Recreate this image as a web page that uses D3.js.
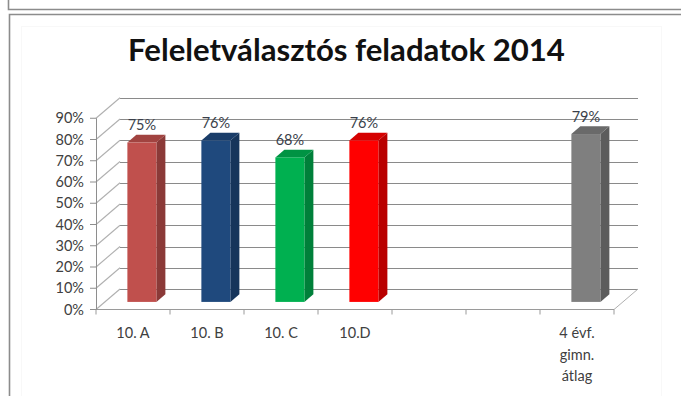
<!DOCTYPE html>
<html><head><meta charset="utf-8">
<script src="https://cdn.jsdelivr.net/npm/d3@7/dist/d3.min.js"></script>
<style>html,body{margin:0;padding:0;background:#fff;}svg{display:block;}</style>
</head><body>
<script>
// ---- data ----
const title = "Feleletválasztós feladatok 2014";
const categories = ["10. A", "10. B", "10. C", "10.D", "", "", "4 évf.\ngimn.\nátlag"];
const values = [0.75, 0.76, 0.68, 0.76, null, null, 0.79];
const valueLabels = ["75%", "76%", "68%", "76%", "", "", "79%"];
const barColors = ["#C0504D", "#1F497D", "#00B050", "#FF0000", null, null, "#7F7F7F"];
const yTicks = [0, 0.1, 0.2, 0.3, 0.4, 0.5, 0.6, 0.7, 0.8, 0.9];
const yTickLabels = ["0%", "10%", "20%", "30%", "40%", "50%", "60%", "70%", "80%", "90%"];

// ---- layout ----
const W = 681, H = 396;
const FONT = "Lato, 'Open Sans', sans-serif";
const X0 = 96, X1 = 614, Y0 = 309.5;
const DX = 24, DY = -20.5;          // depth offset of the 3D box
const tFront = 0.37, tBack = 0.745;  // bar position in depth
const barW = 29;

const svg = d3.select("body").append("svg").attr("width", W).attr("height", H);

// frames
svg.append("path").attr("d", "M8.5,0 V9.5 H681").attr("fill", "none").attr("stroke", "#8c8c8c").attr("stroke-width", 1.6);
svg.append("path").attr("d", "M9.5,396 V14.5 H681").attr("fill", "none").attr("stroke", "#8c8c8c").attr("stroke-width", 1.6);
svg.append("rect").attr("x", 21.5).attr("y", 26.5).attr("width", 640).attr("height", 380)
  .attr("fill", "none").attr("stroke", "#f8f8f8").attr("stroke-width", 1);

const y = d3.scaleLinear().domain([0, 0.9]).range([Y0, Y0 - 191.25]);
const x = d3.scaleBand().domain(d3.range(categories.length)).range([X0, X1]).padding(0);

// left wall diagonals + back wall gridlines
const grid = svg.append("g").attr("stroke", "#8a8a8a").attr("stroke-width", 1.1).attr("fill", "none");
yTicks.forEach(v => {
  const yy = Math.round(y(v) + DY) + 0.5;
  grid.append("line").attr("x1", X0 + DX).attr("x2", X1 + DX).attr("y1", yy).attr("y2", yy);
  grid.append("line").attr("x1", X0).attr("y1", y(v)).attr("x2", X0 + DX).attr("y2", y(v) + DY)
    .attr("stroke", "#b0b0b0");
});

// floor
const floor = svg.append("g").attr("stroke", "#9a9a9a").attr("stroke-width", 1).attr("fill", "none");
floor.append("line").attr("x1", X0).attr("x2", X1).attr("y1", Y0).attr("y2", Y0);
floor.append("line").attr("x1", X1).attr("y1", Y0).attr("x2", X1 + DX).attr("y2", Y0 + DY).attr("stroke", "#b0b0b0");
// category ticks
d3.range(categories.length + 1).forEach(i => {
  const xx = X0 + i * x.bandwidth();
  floor.append("line").attr("x1", xx).attr("x2", xx).attr("y1", Y0).attr("y2", Y0 + 5);
});

// vertical axis
const yAxis = svg.append("g").attr("stroke", "#8e8e8e").attr("stroke-width", 1);
yAxis.append("line").attr("x1", X0 + 0.5).attr("x2", X0 + 0.5).attr("y1", y(0.9)).attr("y2", Y0);
yTicks.forEach((v, i) => {
  yAxis.append("line").attr("x1", X0 - 6).attr("x2", X0).attr("y1", y(v)).attr("y2", y(v));
  svg.append("text").attr("x", 84).attr("y", y(v) + 5).attr("text-anchor", "end")
    .attr("font-family", FONT).attr("font-size", 14.5).attr("fill", "#404040").text(yTickLabels[i]);
});

// bars
const ddx = (tBack - tFront) * DX, ddy = (tBack - tFront) * DY;
const bars = svg.append("g");
values.forEach((v, i) => {
  if (v == null) return;
  const c = d3.color(barColors[i]);
  const xc = x(i) + x.bandwidth() / 2 + tFront * DX;
  const yb = y(0) + tFront * DY, yt = y(v) + tFront * DY;
  const l = xc - barW / 2, r = xc + barW / 2;
  const g = bars.append("g");
  g.append("polygon").attr("points", [[r, yt], [r + ddx, yt + ddy], [r + ddx, yb + ddy], [r, yb]].join(" "))
    .attr("fill", c.darker(0.9));
  g.append("polygon").attr("points", [[l, yt], [l + ddx, yt + ddy], [r + ddx, yt + ddy], [r, yt]].join(" "))
    .attr("fill", c.darker(0.5));
  g.append("rect").attr("x", l).attr("y", yt).attr("width", barW).attr("height", yb - yt).attr("fill", c);
  svg.append("text").attr("x", xc).attr("y", yt - 12.5).attr("text-anchor", "middle")
    .attr("font-family", FONT).attr("font-size", 14.5).attr("fill", "#3a3f4a").text(valueLabels[i]);
});

// category labels
categories.forEach((c, i) => {
  const lines = c.split("\n");
  const t = svg.append("text").attr("text-anchor", "middle").attr("font-family", FONT)
    .attr("font-size", 14.5).attr("fill", "#404040");
  lines.forEach((ln, j) => {
    t.append("tspan").attr("x", x(i) + x.bandwidth() / 2).attr("y", 338 + j * 21.5).text(ln);
  });
});

// title
const tt = svg.append("text").attr("x", 346.5).attr("y", 61).attr("text-anchor", "middle")
  .attr("font-family", FONT).attr("font-weight", "bold").attr("font-size", 24).attr("fill", "#111").text(title);
const w = tt.node().getComputedTextLength();
tt.attr("font-size", 24 * 437 / w);
</script>
</body></html>
